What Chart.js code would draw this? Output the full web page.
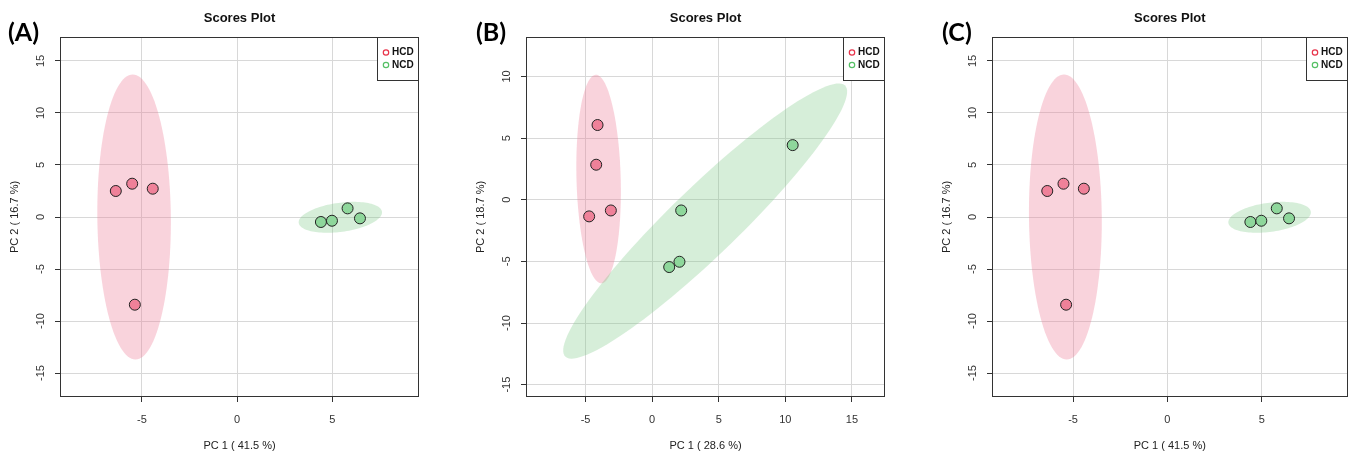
<!DOCTYPE html>
<html>
<head>
<meta charset="utf-8">
<title>Scores Plot</title>
<script src="https://cdn.jsdelivr.net/npm/chart.js@4.4.1/dist/chart.umd.min.js"></script>
<style>
  body { margin: 0; background: #fff; }
  #lienzo { position: relative; width: 1354px; height: 455px; overflow: hidden; }
  .panel { position: absolute; top: 0; }
  .etiqueta { position: absolute; top: 19px; font: bold 25px Lato, "Liberation Sans", sans-serif; line-height: 1; color: #000; }
</style>
</head>
<body>
<div id="lienzo">
  <canvas id="graficoA" class="panel" width="450" height="455" style="left:0px"></canvas>
  <canvas id="graficoB" class="panel" width="450" height="455" style="left:466px"></canvas>
  <canvas id="graficoC" class="panel" width="422" height="455" style="left:932px"></canvas>
  <div class="etiqueta" style="left:8px">(A)</div>
  <div class="etiqueta" style="left:476px">(B)</div>
  <div class="etiqueta" style="left:942px">(C)</div>
</div>
<script>
const grupos = ['HCD', 'NCD'];
const coloresPunto = ['#EF8199', '#8ED79B'];
const coloresElipse = ['rgba(238,130,155,0.35)', 'rgba(120,200,130,0.30)'];
const coloresLeyenda = ['#E8334A', '#55C065'];
const fuente = '"Liberation Sans", Arial, sans-serif';

// panel A y C (mismos scores)
const hcdX_A = [-6.37, -5.51, -4.43, -5.37];
const hcdY_A = [2.50, 3.20, 2.72, -8.43];
const ncdX_A = [4.40, 4.98, 5.80, 6.45];
const ncdY_A = [-0.48, -0.36, 0.83, -0.13];
// elipses: [centro x, centro y, semieje mayor, semieje menor, angulo]
const elipseHcd_A = [-5.41, 0.0, 13.7, 1.93, 90.3];
const elipseNcd_A = [5.42, -0.03, 2.27, 1.36, 19.4];
const rangoX_A = [-9.3, 9.55];
const rangoY_A = [-17.3, 17.3];

// panel B
const hcdX_B = [-4.10, -4.20, -4.73, -3.10];
const hcdY_B = [6.06, 2.84, -1.35, -0.87];
const ncdX_B = [2.18, 10.55, 1.28, 2.05];
const ncdY_B = [-0.87, 4.43, -5.46, -5.03];
const elipseHcd_B = [-4.02, 1.68, 8.46, 1.66, 91.4];
const elipseNcd_B = [3.98, -1.73, 15.2, 2.66, 46.4];
const rangoX_B = [-9.47, 17.48];
const rangoY_B = [-16.0, 13.2];

function pluginElipses(elipses) {
  return {
    id: 'elipses',
    beforeDatasetsDraw(chart) {
      const { ctx, chartArea: ca, scales: { x, y } } = chart;
      ctx.save();
      ctx.beginPath();
      ctx.rect(ca.left, ca.top, ca.width, ca.height);
      ctx.clip();
      elipses.forEach((e, i) => {
        const [cx, cy, a, b, ang] = e;
        const r = ang * Math.PI / 180;
        ctx.beginPath();
        for (let k = 0; k <= 120; k++) {
          const t = k / 120 * 2 * Math.PI;
          const dx = a * Math.cos(t) * Math.cos(r) - b * Math.sin(t) * Math.sin(r);
          const dy = a * Math.cos(t) * Math.sin(r) + b * Math.sin(t) * Math.cos(r);
          const px = x.getPixelForValue(cx + dx);
          const py = y.getPixelForValue(cy + dy);
          if (k === 0) ctx.moveTo(px, py); else ctx.lineTo(px, py);
        }
        ctx.closePath();
        ctx.fillStyle = coloresElipse[i];
        ctx.fill();
      });
      ctx.restore();
    }
  };
}

const pluginMarco = {
  id: 'marco',
  afterDatasetsDraw(chart) {
    const { ctx, chartArea: ca } = chart;
    ctx.save();
    ctx.strokeStyle = '#333';
    ctx.lineWidth = 1;
    ctx.strokeRect(Math.round(ca.left) + 0.5, Math.round(ca.top) + 0.5, Math.round(ca.width) - 1, Math.round(ca.height) - 1);

    // leyenda arriba a la derecha
    const w = 42, h = 43;
    const lx = Math.round(ca.right) - w, ly = Math.round(ca.top);
    ctx.fillStyle = '#fff';
    ctx.fillRect(lx, ly, w, h);
    ctx.strokeRect(lx + 0.5, ly + 0.5, w - 1, h);
    ctx.font = 'bold 10px ' + fuente;
    ctx.textBaseline = 'middle';
    chart.data.datasets.forEach((ds, i) => {
      const yy = ly + 15.5 + i * 12.5;
      ctx.beginPath();
      ctx.arc(lx + 9, yy, 2.7, 0, 2 * Math.PI);
      ctx.strokeStyle = coloresLeyenda[i];
      ctx.lineWidth = 1.2;
      ctx.stroke();
      ctx.fillStyle = '#111';
      ctx.fillText(ds.label, lx + 15, yy);
    });
    ctx.restore();
  }
};

function crearGrafico(id, puntosX, puntosY, elipses, rangoX, rangoY, tituloX, tituloY, padDerecha) {
  return new Chart(document.getElementById(id), {
    type: 'scatter',
    data: {
      datasets: grupos.map((g, i) => ({
        label: g,
        data: puntosX[i].map((v, k) => ({ x: v, y: puntosY[i][k] })),
        backgroundColor: coloresPunto[i],
        borderColor: '#222',
        borderWidth: 1,
        pointRadius: 5.5,
        pointHoverRadius: 5.5
      }))
    },
    options: {
      responsive: false,
      animation: false,
      devicePixelRatio: 1,
      layout: { padding: { left: 0, right: padDerecha, top: 0, bottom: 0 } },
      plugins: {
        legend: { display: false },
        tooltip: { enabled: false },
        title: {
          display: true,
          text: 'Scores Plot',
          fullSize: false,
          color: '#111',
          font: { family: fuente, size: 13, weight: 'bold', lineHeight: 1.2 },
          padding: { top: 11, bottom: 10.4 }
        }
      },
      scales: {
        x: {
          type: 'linear',
          position: 'bottom',
          min: rangoX[0],
          max: rangoX[1],
          ticks: { stepSize: 5, includeBounds: false, maxRotation: 0, padding: 11, color: '#333', font: { family: fuente, size: 11 } },
          grid: { color: '#d8d8d8', tickColor: '#333', tickLength: 5 },
          border: { display: false },
          title: { display: true, text: tituloX, color: '#222', font: { family: fuente, size: 11, lineHeight: 1.2 }, padding: { top: 0, bottom: 2 } },
          afterFit: s => { s.height = 58; }
        },
        y: {
          type: 'linear',
          position: 'left',
          min: rangoY[0],
          max: rangoY[1],
          ticks: { stepSize: 5, includeBounds: false, minRotation: 90, maxRotation: 90, crossAlign: 'center', padding: 6, color: '#333', font: { family: fuente, size: 11 } },
          grid: { color: '#d8d8d8', tickColor: '#333', tickLength: 5 },
          border: { display: false },
          title: { display: true, text: tituloY, color: '#222', font: { family: fuente, size: 11, lineHeight: 1.2 }, padding: { top: 8.5, bottom: 0 } },
          afterFit: s => { s.width = 60; }
        }
      }
    },
    plugins: [pluginElipses(elipses), pluginMarco]
  });
}

crearGrafico('graficoA', [hcdX_A, ncdX_A], [hcdY_A, ncdY_A], [elipseHcd_A, elipseNcd_A],
  rangoX_A, rangoY_A, 'PC 1 ( 41.5 %)', 'PC 2 ( 16.7 %)', 31);
crearGrafico('graficoB', [hcdX_B, ncdX_B], [hcdY_B, ncdY_B], [elipseHcd_B, elipseNcd_B],
  rangoX_B, rangoY_B, 'PC 1 ( 28.6 %)', 'PC 2 ( 18.7 %)', 31);
crearGrafico('graficoC', [hcdX_A, ncdX_A], [hcdY_A, ncdY_A], [elipseHcd_A, elipseNcd_A],
  rangoX_A, rangoY_A, 'PC 1 ( 41.5 %)', 'PC 2 ( 16.7 %)', 3);
</script>
</body>
</html>
